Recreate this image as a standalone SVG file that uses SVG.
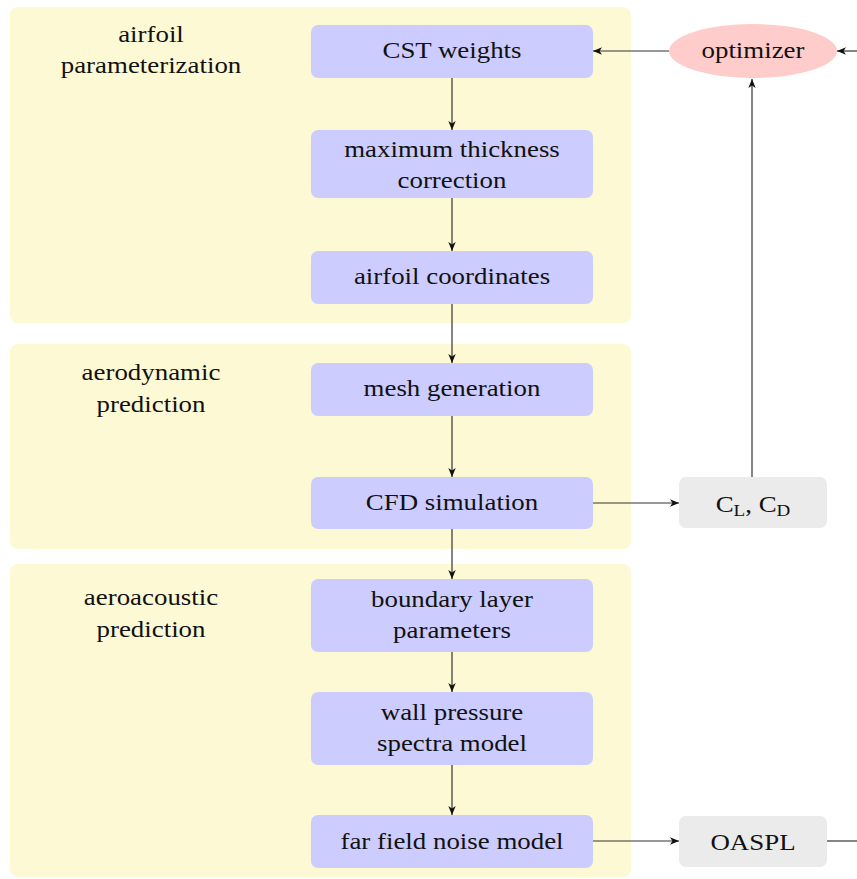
<svg xmlns="http://www.w3.org/2000/svg" width="857" height="879" viewBox="0 0 857 879">
  <style>
    .panel { fill: #fdf9d5; }
    .step { fill: #ccccff; }
    .result { fill: #ebebeb; }
    .opt { fill: #ffcccc; }
    .lbl { font-family: "Liberation Serif", "Times New Roman", serif; font-size: 24px; fill: #111; text-anchor: middle; }
    .sub { font-size: 17px; }
    .wire { fill: none; stroke: #333; stroke-width: 1.2; }
  </style>
  <defs>
    <marker id="head" markerWidth="10" markerHeight="8" refX="9" refY="4" orient="auto" markerUnits="userSpaceOnUse">
      <path d="M9,4 L0,0.3 L2.4,4 L0,7.7 Z" fill="#111"/>
    </marker>
  </defs>

  <!-- background panels -->
  <g id="panels">
    <rect class="panel" x="10" y="7" width="621" height="316" rx="8"/>
    <rect class="panel" x="10" y="344" width="621" height="205" rx="8"/>
    <rect class="panel" x="10" y="564" width="621" height="313" rx="8"/>
  </g>

  <!-- panel captions -->
  <g id="caption-parameterization" class="lbl" transform="translate(151 0) scale(1.12 1)">
    <text x="0" y="42">airfoil</text>
    <text x="0" y="73">parameterization</text>
  </g>
  <g id="caption-aerodynamic" class="lbl" transform="translate(151 0) scale(1.12 1)">
    <text x="0" y="380">aerodynamic</text>
    <text x="0" y="412">prediction</text>
  </g>
  <g id="caption-aeroacoustic" class="lbl" transform="translate(151 0) scale(1.12 1)">
    <text x="0" y="605">aeroacoustic</text>
    <text x="0" y="637">prediction</text>
  </g>

  <!-- connectors -->
  <g id="connectors" class="wire">
    <line x1="452" y1="78" x2="452" y2="130" marker-end="url(#head)"/>
    <line x1="452" y1="198" x2="452" y2="251" marker-end="url(#head)"/>
    <line x1="452" y1="304" x2="452" y2="363" marker-end="url(#head)"/>
    <line x1="452" y1="416" x2="452" y2="477" marker-end="url(#head)"/>
    <line x1="452" y1="529" x2="452" y2="579" marker-end="url(#head)"/>
    <line x1="452" y1="652" x2="452" y2="692" marker-end="url(#head)"/>
    <line x1="452" y1="765" x2="452" y2="815" marker-end="url(#head)"/>
    <line x1="593" y1="503" x2="679" y2="503" marker-end="url(#head)"/>
    <line x1="593" y1="841" x2="679" y2="841" marker-end="url(#head)"/>
    <line x1="752" y1="477" x2="752" y2="79" marker-end="url(#head)"/>
    <line x1="669" y1="51" x2="593" y2="51" marker-end="url(#head)"/>
    <line x1="827" y1="841" x2="857" y2="841"/>
    <line x1="857" y1="51" x2="837" y2="51" marker-end="url(#head)"/>
  </g>

  <!-- process steps -->
  <g id="cst-weights">
    <rect class="step" x="311" y="25" width="282" height="53" rx="7"/>
    <g class="lbl" transform="translate(452 0) scale(1.12 1)"><text x="0" y="58">CST weights</text></g>
  </g>
  <g id="thickness-correction">
    <rect class="step" x="311" y="130" width="282" height="68" rx="7"/>
    <g class="lbl" transform="translate(452 0) scale(1.12 1)">
      <text x="0" y="157">maximum thickness</text>
      <text x="0" y="188">correction</text>
    </g>
  </g>
  <g id="airfoil-coordinates">
    <rect class="step" x="311" y="251" width="282" height="53" rx="7"/>
    <g class="lbl" transform="translate(452 0) scale(1.12 1)"><text x="0" y="284">airfoil coordinates</text></g>
  </g>
  <g id="mesh-generation">
    <rect class="step" x="311" y="363" width="282" height="53" rx="7"/>
    <g class="lbl" transform="translate(452 0) scale(1.12 1)"><text x="0" y="396">mesh generation</text></g>
  </g>
  <g id="cfd-simulation">
    <rect class="step" x="311" y="477" width="282" height="52" rx="7"/>
    <g class="lbl" transform="translate(452 0) scale(1.12 1)"><text x="0" y="510">CFD simulation</text></g>
  </g>
  <g id="boundary-layer">
    <rect class="step" x="311" y="579" width="282" height="73" rx="7"/>
    <g class="lbl" transform="translate(452 0) scale(1.12 1)">
      <text x="0" y="607">boundary layer</text>
      <text x="0" y="638">parameters</text>
    </g>
  </g>
  <g id="wall-pressure">
    <rect class="step" x="311" y="692" width="282" height="73" rx="7"/>
    <g class="lbl" transform="translate(452 0) scale(1.12 1)">
      <text x="0" y="720">wall pressure</text>
      <text x="0" y="751">spectra model</text>
    </g>
  </g>
  <g id="far-field">
    <rect class="step" x="311" y="815" width="282" height="53" rx="7"/>
    <g class="lbl" transform="translate(452 0) scale(1.12 1)"><text x="0" y="849">far field noise model</text></g>
  </g>

  <!-- outputs and optimizer -->
  <g id="coefficients">
    <rect class="result" x="679" y="477" width="148" height="51" rx="7"/>
    <g class="lbl" transform="translate(753 0) scale(1.12 1)">
      <text x="0" y="512">C<tspan class="sub" dy="4">L</tspan><tspan dy="-4">, C</tspan><tspan class="sub" dy="4">D</tspan></text>
    </g>
  </g>
  <g id="oaspl">
    <rect class="result" x="679" y="816" width="148" height="51" rx="7"/>
    <g class="lbl" transform="translate(753 0) scale(1.12 1)"><text x="0" y="850">OASPL</text></g>
  </g>
  <g id="optimizer">
    <ellipse class="opt" cx="753" cy="51" rx="84" ry="27"/>
    <g class="lbl" transform="translate(753 0) scale(1.12 1)"><text x="0" y="58">optimizer</text></g>
  </g>
</svg>
